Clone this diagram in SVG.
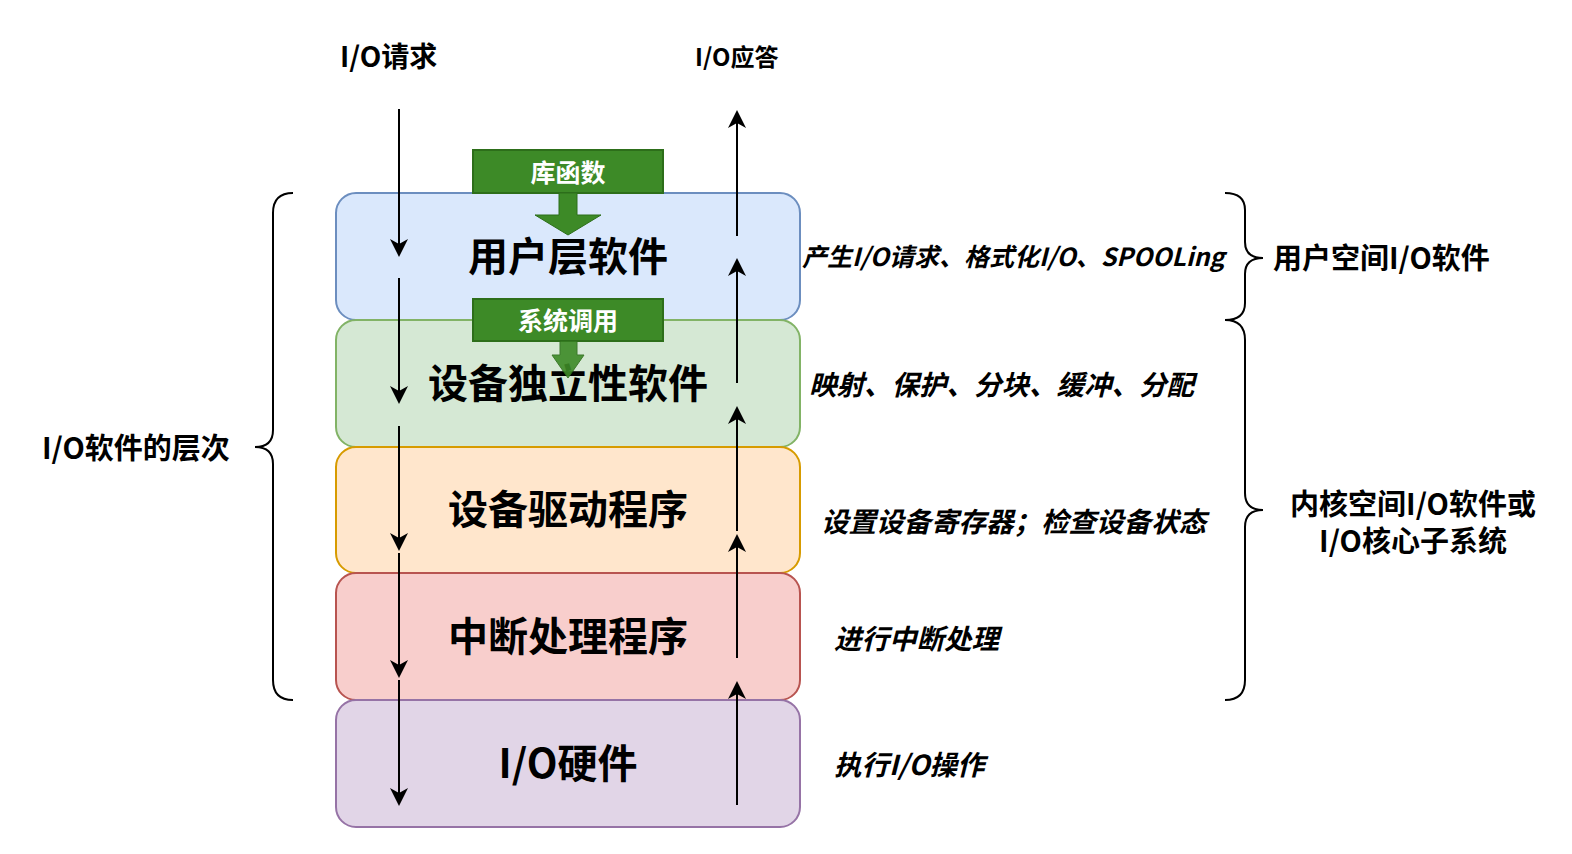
<svg xmlns="http://www.w3.org/2000/svg" width="1572" height="854" viewBox="0 0 1572 854">
  <defs>
    <style>
      text { font-family: "Noto Sans CJK SC", "Noto Sans", sans-serif; font-weight: bold; fill: #000; }
      .layer { stroke-width: 2; }
      .title { font-size: 40px; text-anchor: middle; dominant-baseline: central; }
      .desc { font-size: 27.5px; font-style: italic; dominant-baseline: central; }
      .side { font-size: 29px; dominant-baseline: central; }
      .tag { fill: #3d8a27; stroke: #2d6e1a; stroke-width: 2; }
      .tagtext { font-size: 25px; fill: #fff; text-anchor: middle; dominant-baseline: central; }
      .flow { stroke: #000; stroke-width: 2; fill: none; marker-end: url(#arrow); }
      .brace { stroke: #000; stroke-width: 2; fill: none; }
    </style>
    <marker id="arrow" markerUnits="userSpaceOnUse" markerWidth="18" markerHeight="18" viewBox="0 0 18 18" refX="15" refY="9" orient="auto">
      <path d="M0,0 L18,9 L0,18 L5,9 Z" fill="#000"/>
    </marker>
  </defs>

  <rect width="1572" height="854" fill="#fff"/>

  <!-- layer stack -->
  <g id="user-layer">
    <rect class="layer" x="336" y="193" width="464" height="127" rx="20" fill="#dae8fc" stroke="#6c8ebf"/>
    <text class="title" x="568" y="254">用户层软件</text>
  </g>
  <g id="device-independent">
    <rect class="layer" x="336" y="320" width="464" height="127" rx="20" fill="#d5e8d4" stroke="#82b366"/>
    <text class="title" x="568" y="381">设备独立性软件</text>
  </g>
  <g id="device-driver">
    <rect class="layer" x="336" y="447" width="464" height="126" rx="20" fill="#ffe6cc" stroke="#d79b00"/>
    <text class="title" x="568" y="507">设备驱动程序</text>
  </g>
  <g id="interrupt-handler">
    <rect class="layer" x="336" y="573" width="464" height="127" rx="20" fill="#f8cecc" stroke="#b85450"/>
    <text class="title" x="568" y="634">中断处理程序</text>
  </g>
  <g id="io-hardware">
    <rect class="layer" x="336" y="700" width="464" height="127" rx="20" fill="#e1d5e7" stroke="#9673a6"/>
    <text class="title" x="568" y="761">I/O硬件</text>
  </g>

  <!-- entry points into the layers -->
  <g id="library-call">
    <rect class="tag" x="473" y="150" width="190" height="43"/>
    <text class="tagtext" x="568" y="171">库函数</text>
    <path d="M559,193 L577,193 L577,215 L601,215 L568,235 L535,215 L559,215 Z" fill="#3d8a27" stroke="#2d6e1a" stroke-width="1"/>
  </g>
  <g id="system-call">
    <rect class="tag" x="473" y="299" width="190" height="42"/>
    <text class="tagtext" x="568" y="319">系统调用</text>
    <path d="M560,341 L577,341 L577,355 L584,355 L568,378 L552,355 L560,355 Z" fill="#3d8a27" stroke="#2d6e1a" stroke-width="1" opacity="0.9"/>
  </g>

  <!-- request and response flows -->
  <g id="connectors">
    <line class="flow" x1="399" y1="109" x2="399" y2="254"/>
    <line class="flow" x1="399" y1="278" x2="399" y2="401"/>
    <line class="flow" x1="399" y1="426" x2="399" y2="548"/>
    <line class="flow" x1="399" y1="553" x2="399" y2="675"/>
    <line class="flow" x1="399" y1="680" x2="399" y2="803"/>

    <line class="flow" x1="737" y1="805" x2="737" y2="684"/>
    <line class="flow" x1="737" y1="658" x2="737" y2="537"/>
    <line class="flow" x1="737" y1="531" x2="737" y2="409"/>
    <line class="flow" x1="737" y1="383" x2="737" y2="261"/>
    <line class="flow" x1="737" y1="236" x2="737" y2="113"/>
  </g>

  <g id="flow-labels">
    <text class="side" x="340" y="55" style="font-size:28px">I/O请求</text>
    <text class="side" x="695" y="55" style="font-size:24px">I/O应答</text>
  </g>

  <!-- layer descriptions -->
  <g id="descriptions">
    <text class="desc" x="802" y="255" style="font-size:25px">产生I/O请求、格式化I/O、SPOOLing</text>
    <text class="desc" x="809" y="383">映射、保护、分块、缓冲、分配</text>
    <text class="desc" x="821" y="520">设置设备寄存器；检查设备状态</text>
    <text class="desc" x="834" y="637">进行中断处理</text>
    <text class="desc" x="834" y="763">执行I/O操作</text>
  </g>

  <!-- grouping braces -->
  <g id="brace-all">
    <path class="brace" d="M293,193 Q273,193 273,213 L273,430 Q273,447 255,447 Q273,447 273,464 L273,680 Q273,700 293,700"/>
    <text class="side" x="42" y="446">I/O软件的层次</text>
  </g>
  <g id="brace-user">
    <path class="brace" d="M1225,193 Q1245,193 1245,210 L1245,242 Q1245,258 1263,258 Q1245,258 1245,274 L1245,303 Q1245,320 1225,320"/>
    <text class="side" x="1273" y="256">用户空间I/O软件</text>
  </g>
  <g id="brace-kernel">
    <path class="brace" d="M1225,320 Q1245,320 1245,340 L1245,493 Q1245,510 1263,510 Q1245,510 1245,527 L1245,680 Q1245,700 1225,700"/>
    <text class="side" x="1413" y="502" text-anchor="middle">内核空间I/O软件或</text>
    <text class="side" x="1413" y="539" text-anchor="middle">I/O核心子系统</text>
  </g>
</svg>
